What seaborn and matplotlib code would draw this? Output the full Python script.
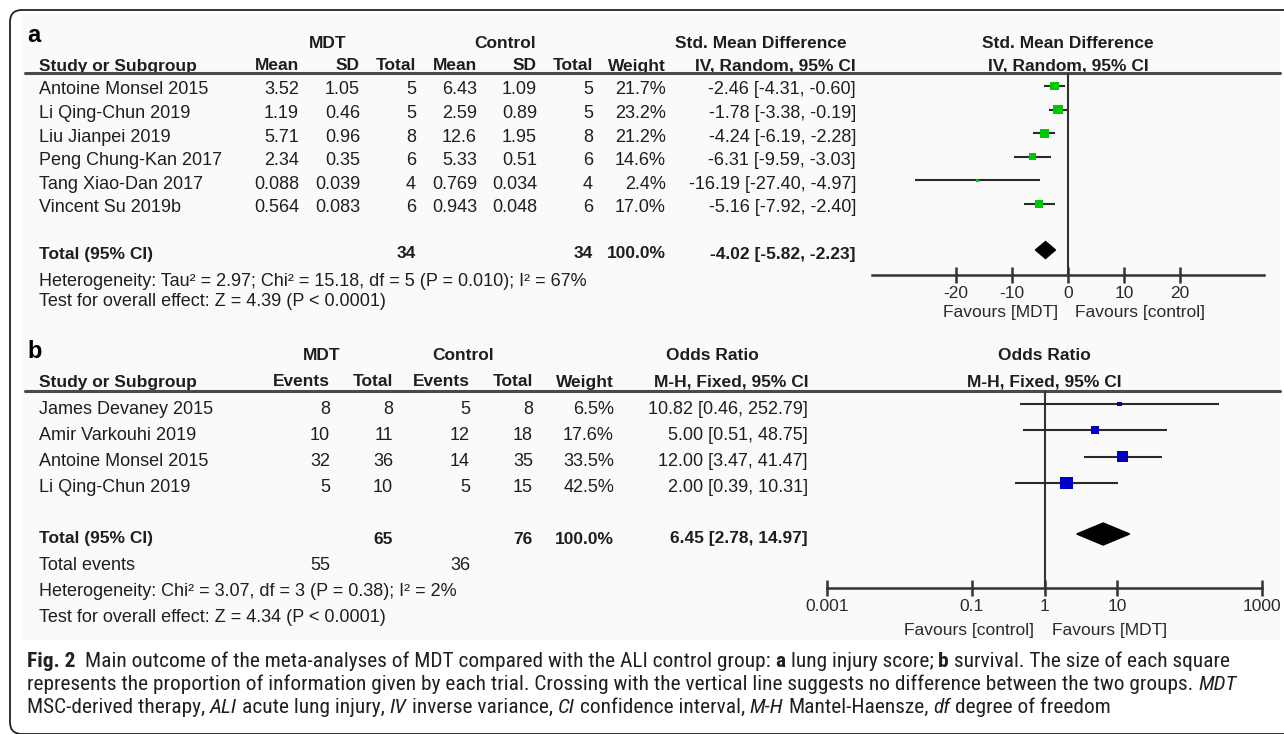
import numpy as np
import pandas as pd
import matplotlib
matplotlib.use("Agg")
import matplotlib.pyplot as plt
import seaborn as sns
from matplotlib.patches import Polygon, FancyBboxPatch, Rectangle
from matplotlib.ticker import NullLocator
from matplotlib import font_manager

# ---------------- data: panel a (lung injury score) ----------------
studies_a = ["Antoine Monsel 2015", "Li Qing-Chun 2019", "Liu Jianpei 2019",
             "Peng Chung-Kan 2017", "Tang Xiao-Dan 2017", "Vincent Su 2019b"]
mdt_mean_a = [3.52, 1.19, 5.71, 2.34, 0.088, 0.564]
mdt_sd_a = [1.05, 0.46, 0.96, 0.35, 0.039, 0.083]
mdt_n_a = [5, 5, 8, 6, 4, 6]
ctl_mean_a = [6.43, 2.59, 12.6, 5.33, 0.769, 0.943]
ctl_sd_a = [1.09, 0.89, 1.95, 0.51, 0.034, 0.048]
ctl_n_a = [5, 5, 8, 6, 4, 6]
weight_a = [21.7, 23.2, 21.2, 14.6, 2.4, 17.0]
smd_a = [-2.46, -1.78, -4.24, -6.31, -16.19, -5.16]
lo_a = [-4.31, -3.38, -6.19, -9.59, -27.40, -7.92]
hi_a = [-0.60, -0.19, -2.28, -3.03, -4.97, -2.40]
total_a = {"mdt_n": 34, "ctl_n": 34, "weight": 100.0, "est": -4.02, "lo": -5.82, "hi": -2.23}
xticks_a = [-20, -10, 0, 10, 20]

# ---------------- data: panel b (survival) ----------------
studies_b = ["James Devaney 2015", "Amir Varkouhi 2019", "Antoine Monsel 2015", "Li Qing-Chun 2019"]
mdt_events_b = [8, 10, 32, 5]
mdt_total_b = [8, 11, 36, 10]
ctl_events_b = [5, 12, 14, 5]
ctl_total_b = [8, 18, 35, 15]
weight_b = [6.5, 17.6, 33.5, 42.5]
or_b = [10.82, 5.00, 12.00, 2.00]
lo_b = [0.46, 0.51, 3.47, 0.39]
hi_b = [252.79, 48.75, 41.47, 10.31]
total_b = {"mdt_n": 65, "ctl_n": 76, "mdt_ev": 55, "ctl_ev": 36, "weight": 100.0,
           "est": 6.45, "lo": 2.78, "hi": 14.97}
xticks_b = [0.001, 0.1, 1, 10, 1000]
xticklabels_b = ["0.001", "0.1", "1", "10", "1000"]

# ---------------- setup ----------------
W, H = 1284, 734
sns.set_theme(style="white")
names = {f.name for f in font_manager.fontManager.ttflist}
tab_font = "Liberation Sans" if "Liberation Sans" in names else "DejaVu Sans"
cap_font = next((n for n in ["Liberation Sans Narrow", "Roboto Condensed", "Open Sans Condensed",
                             "Liberation Sans"] if n in names), "DejaVu Sans")
plt.rcParams["font.family"] = [tab_font, "DejaVu Sans"]

fig = plt.figure(figsize=(W / 100, H / 100), dpi=100)
bg = fig.add_axes([0, 0, 1, 1])
bg.set_xlim(0, W)
bg.set_ylim(H, 0)
bg.axis("off")

TXT = "#1e1e1e"
GREEN = "#00c800"
BLUE = "#0000c8"
LINE = "#2a2a2a"


def t(x, y, s, ha="left", bold=False, size=13, color=TXT):
    bg.text(x, y, s, ha=ha, va="center", fontsize=size,
            fontweight="bold" if bold else "normal", color=color)


# background of figure image and border
bg.add_patch(Rectangle((22, 14), 1258, 626, color="#fafafa", zorder=0, lw=0))
bg.add_patch(FancyBboxPatch((10, 10), 1300, 724, boxstyle="round,pad=0,rounding_size=12",
                            fill=False, ec="#222222", lw=1.3, zorder=5))


def forest_axes(x0, x1, y0, y1):
    ax = fig.add_axes([x0 / W, 1 - y1 / H, (x1 - x0) / W, (y1 - y0) / H])
    ax.set_ylim(y1, y0)
    ax.patch.set_alpha(0)
    for s in ["top", "right", "left"]:
        ax.spines[s].set_visible(False)
    ax.spines["bottom"].set_color("#333333")
    ax.spines["bottom"].set_linewidth(1.8)
    ax.set_yticks([])
    ax.set_xlabel("")
    ax.set_ylabel("")
    ax.tick_params(axis="x", bottom=True, direction="inout", length=12, width=1.8,
                   color="#333333", labelsize=12.5, labelcolor="#2a2a2a", pad=2)
    return ax


def squares(ax, est, lo, hi, w, ys, color, k):
    df = pd.DataFrame({"est": est, "lo": lo, "hi": hi, "w": w, "y": ys})
    ax.hlines(df["y"], df["lo"], df["hi"], color=LINE, lw=1.5, zorder=2)
    sns.scatterplot(data=df, x="est", y="y", size="w", sizes=(0, k * max(w)),
                    size_norm=(0, max(w)), marker="s", color=color, linewidth=0,
                    legend=False, ax=ax, zorder=3)


def diamond(ax, est, lo, hi, y, h):
    ax.add_patch(Polygon([(lo, y), (est, y - h / 2), (hi, y), (est, y + h / 2)],
                         closed=True, color="black", zorder=3))


K = (1.9 * 0.72) ** 2

# ================= PANEL A =================
ya0, ya_step, ya_off = 86, 23.6, 4
rows_a = [ya0 + i * ya_step for i in range(len(studies_a))]
ya_tot = 250
bg.text(27, 35, "a", ha="left", va="center", fontsize=17, fontweight="bold", color="black")
t(328, 43, "MDT", ha="center", bold=True, size=12.5)
t(505, 43, "Control", ha="center", bold=True, size=12.5)
t(761, 43, "Std. Mean Difference", ha="center", bold=True, size=12.5)
t(1068, 43, "Std. Mean Difference", ha="center", bold=True, size=12.5)
t(39, 66, "Study or Subgroup", bold=True, size=12.5)
for x, s in [(299, "Mean"), (360, "SD"), (416, "Total"), (477, "Mean"), (537, "SD"),
             (593, "Total"), (666, "Weight"), (856, "IV, Random, 95% CI")]:
    t(x, 66, s, ha="right", bold=True, size=12.5)
t(1068, 66, "IV, Random, 95% CI", ha="center", bold=True, size=12.5)
bg.plot([25, 1280], [73, 73], color="#4a4a4a", lw=2.2, zorder=4)

for i, y in enumerate(rows_a):
    yt = y + ya_off
    t(39, yt, studies_a[i])
    t(299, yt, str(mdt_mean_a[i]), ha="right")
    t(360, yt, str(mdt_sd_a[i]), ha="right")
    t(416, yt, str(mdt_n_a[i]), ha="right")
    t(477, yt, str(ctl_mean_a[i]), ha="right")
    t(537, yt, str(ctl_sd_a[i]), ha="right")
    t(593, yt, str(ctl_n_a[i]), ha="right")
    t(666, yt, f"{weight_a[i]:.1f}%", ha="right")
    t(856, yt, f"{smd_a[i]:.2f} [{lo_a[i]:.2f}, {hi_a[i]:.2f}]", ha="right")
yt = ya_tot + 4
t(39, yt, "Total (95% CI)", bold=True, size=12.5)
t(416, yt, str(total_a["mdt_n"]), ha="right", bold=True, size=12.5)
t(593, yt, str(total_a["ctl_n"]), ha="right", bold=True, size=12.5)
t(666, yt, f"{total_a['weight']:.1f}%", ha="right", bold=True, size=12.5)
t(856, yt, f"{total_a['est']:.2f} [{total_a['lo']:.2f}, {total_a['hi']:.2f}]", ha="right", bold=True, size=12.5)
t(39, 281, "Heterogeneity: Tau² = 2.97; Chi² = 15.18, df = 5 (P = 0.010); I² = 67%")
t(39, 302, "Test for overall effect: Z = 4.39 (P < 0.0001)")

axa = forest_axes(872, 1264, 73, 275)
axa.set_xlim(-35, 35)
axa.axvline(0, color="#333333", lw=1.5, zorder=1)
squares(axa, smd_a, lo_a, hi_a, weight_a, rows_a, GREEN, K)
diamond(axa, total_a["est"], total_a["lo"], total_a["hi"], ya_tot, 17)
axa.set_xticks(xticks_a)
axa.set_xticklabels([str(v) for v in xticks_a])
axa.set_ylim(275, 73)
axa.set_xlabel("")
axa.set_ylabel("")
t(1058, 313, "Favours [MDT]", ha="right", size=12.5, color="#2a2a2a")
t(1075, 313, "Favours [control]", ha="left", size=12.5, color="#2a2a2a")

# ================= PANEL B =================
yb0, yb_step, yb_off = 404, 26.3, 5
rows_b = [yb0 + i * yb_step for i in range(len(studies_b))]
yb_tot = 534
bg.text(27, 352, "b", ha="left", va="center", fontsize=17, fontweight="bold", color="black")
t(322, 356, "MDT", ha="center", bold=True, size=12.5)
t(463, 356, "Control", ha="center", bold=True, size=12.5)
t(712, 356, "Odds Ratio", ha="center", bold=True, size=12.5)
t(1044, 356, "Odds Ratio", ha="center", bold=True, size=12.5)
t(39, 382, "Study or Subgroup", bold=True, size=12.5)
for x, s in [(330, "Events"), (393, "Total"), (470, "Events"), (533, "Total"),
             (614, "Weight"), (808, "M-H, Fixed, 95% CI")]:
    t(x, 382, s, ha="right", bold=True, size=12.5)
t(1044, 382, "M-H, Fixed, 95% CI", ha="center", bold=True, size=12.5)
bg.plot([25, 1280], [391, 391], color="#4a4a4a", lw=2.2, zorder=4)

for i, y in enumerate(rows_b):
    yt = y + yb_off
    t(39, yt, studies_b[i])
    t(330, yt, str(mdt_events_b[i]), ha="right")
    t(393, yt, str(mdt_total_b[i]), ha="right")
    t(470, yt, str(ctl_events_b[i]), ha="right")
    t(533, yt, str(ctl_total_b[i]), ha="right")
    t(614, yt, f"{weight_b[i]:.1f}%", ha="right")
    t(808, yt, f"{or_b[i]:.2f} [{lo_b[i]:.2f}, {hi_b[i]:.2f}]", ha="right")
yt = yb_tot + 5
t(39, yt, "Total (95% CI)", bold=True, size=12.5)
t(393, yt, str(total_b["mdt_n"]), ha="right", bold=True, size=12.5)
t(533, yt, str(total_b["ctl_n"]), ha="right", bold=True, size=12.5)
t(614, yt, f"{total_b['weight']:.1f}%", ha="right", bold=True, size=12.5)
t(808, yt, f"{total_b['est']:.2f} [{total_b['lo']:.2f}, {total_b['hi']:.2f}]", ha="right", bold=True, size=12.5)
t(39, 566, "Total events")
t(330, 566, str(total_b["mdt_ev"]), ha="right")
t(470, 566, str(total_b["ctl_ev"]), ha="right")
t(39, 592, "Heterogeneity: Chi² = 3.07, df = 3 (P = 0.38); I² = 2%")
t(39, 617, "Test for overall effect: Z = 4.34 (P < 0.0001)")

axb = forest_axes(827, 1262, 391, 588)
axb.set_xscale("log")
axb.set_xlim(0.001, 1000)
axb.axvline(1, color="#333333", lw=1.5, zorder=1)
squares(axb, or_b, lo_b, hi_b, weight_b, rows_b, BLUE, K)
diamond(axb, total_b["est"], total_b["lo"], total_b["hi"], yb_tot, 22)
axb.set_xticks(xticks_b)
axb.set_xticklabels(xticklabels_b)
axb.xaxis.set_minor_locator(NullLocator())
axb.set_xlim(0.001, 1000)
axb.set_ylim(588, 391)
axb.set_xlabel("")
axb.set_ylabel("")
t(1034, 630, "Favours [control]", ha="right", size=12.5, color="#2a2a2a")
t(1052, 630, "Favours [MDT]", ha="left", size=12.5, color="#2a2a2a")

# ================= CAPTION =================
cap_lines = [
    [("Fig. 2", "bold", "normal"),
     ("  Main outcome of the meta-analyses of MDT compared with the ALI control group: ", "normal", "normal"),
     ("a", "bold", "normal"), (" lung injury score; ", "normal", "normal"),
     ("b", "bold", "normal"), (" survival. The size of each square", "normal", "normal")],
    [("represents the proportion of information given by each trial. Crossing with the vertical line "
      "suggests no difference between the two groups. ", "normal", "normal"),
     ("MDT", "normal", "italic")],
    [("MSC-derived therapy, ", "normal", "normal"), ("ALI", "normal", "italic"),
     (" acute lung injury, ", "normal", "normal"), ("IV", "normal", "italic"),
     (" inverse variance, ", "normal", "normal"), ("CI", "normal", "italic"),
     (" confidence interval, ", "normal", "normal"), ("M-H", "normal", "italic"),
     (" Mantel-Haensze, ", "normal", "normal"), ("df", "normal", "italic"),
     (" degree of freedom", "normal", "normal")],
]
renderer = fig.canvas.get_renderer()


def width_of(s, weight, style, size):
    tt = bg.text(0, 0, s, fontsize=size, fontweight=weight, fontstyle=style, family=[cap_font, "DejaVu Sans"])
    w = tt.get_window_extent(renderer=renderer).width
    tt.remove()
    return w


def layout_line(segs, size, draw=False, x0=27, y=0):
    sp = width_of("a a", "normal", "normal", size) - width_of("aa", "normal", "normal", size)
    x = x0
    for s, wgt, sty in segs:
        lead = len(s) - len(s.lstrip(" "))
        trail = len(s) - len(s.rstrip(" "))
        core = s.strip(" ")
        x += lead * sp
        if draw:
            bg.text(x, y, core, ha="left", va="baseline", fontsize=size, fontweight=wgt,
                    fontstyle=sty, color="#231f20", family=[cap_font, "DejaVu Sans"])
        x += width_of(core, wgt, sty, size)
        x += trail * sp
    return x - x0


base = 14.0
w1 = layout_line(cap_lines[0], base)
cap_size = base * 1211.0 / w1
for li, yb in zip(cap_lines, [667, 690, 713]):
    layout_line(li, cap_size, draw=True, y=yb)

fig.savefig("out.png", dpi=100)
